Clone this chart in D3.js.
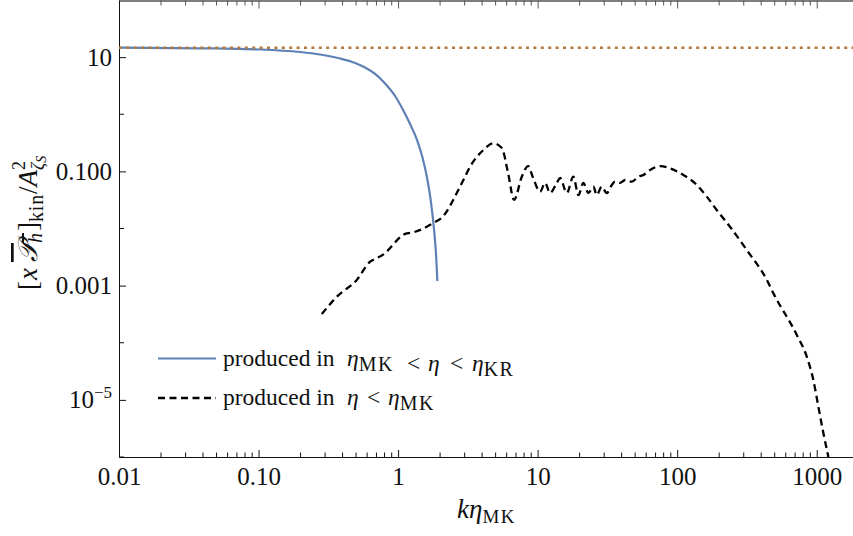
<!DOCTYPE html>
<html><head><meta charset="utf-8">
<script src="https://cdn.jsdelivr.net/npm/d3@7"></script>
<style>
body{margin:0;background:#fff}
svg{display:block}
text{font-family:"Liberation Serif","Times New Roman",serif;fill:#111}
</style>
</head><body>
<svg id="chart" width="853" height="536"></svg>
<script>
// ---- data ----
const blueK = [0.01, 0.0381, 0.1026, 0.1985, 0.2761, 0.384, 0.4918, 0.58, 0.6842, 0.8071, 0.9517, 1.086, 1.219, 1.368, 1.486, 1.614, 1.724, 1.811, 1.872, 1.912];
const blueV = [14.62, 14.27, 13.6, 12.29, 11.12, 9.46, 7.89, 6.58, 5.07, 3.45, 2.087, 1.187, 0.6745, 0.354, 0.1858, 0.0766, 0.0279, 0.00942, 0.00344, 0.001205];

const dashK = [0.284, 0.364, 0.506, 0.630, 0.662, 0.830, 0.876, 1.154, 1.219, 1.79, 2.112, 2.634, 2.938, 3.28, 4.085, 4.82, 5.54, 6.14, 6.78, 7.70, 8.55,
  9.28, 10.41, 11.31, 12.28, 13.72, 14.49, 16.18, 18.04, 19.6, 21.3, 23.1, 25.1, 26.5, 28.8, 31.3, 34.0, 35.9, 39.0, 42.4, 47.3, 52.7, 57.3,
  64.0, 75.5, 89.0, 110.8, 138.3, 163, 192, 239, 315, 439, 489, 720, 849, 946, 1028, 1117, 1213];
const dashV = [3.18e-4, 6.4e-4, 1.26e-3, 2.62e-3, 2.81e-3, 3.93e-3, 4.56e-3, 8.24e-3, 8.36e-3, 0.01247, 0.01656, 0.0418, 0.0706, 0.1208, 0.2366, 0.3098, 0.2565, 0.0938, 0.0316, 0.0807, 0.124,
  0.0766, 0.0441, 0.0627, 0.0418, 0.0627, 0.0766, 0.0418, 0.0807, 0.0385, 0.0627, 0.0418, 0.054, 0.0385, 0.054, 0.0418, 0.0578, 0.0659, 0.0627, 0.0706, 0.0659, 0.0807, 0.0865,
  0.1057, 0.124, 0.113, 0.0865, 0.0578, 0.0361, 0.0211, 0.01076, 4.21e-3, 1.26e-3, 7.35e-4, 1.37e-4, 5.7e-5, 2.23e-5, 7.6e-6, 2.6e-6, 1.0e-6];

const refLevel = 14.62;

const xMajor = [0.01, 0.1, 1, 10, 100, 1000];
const xLabels = ["0.01", "0.10", "1", "10", "100", "1000"];
const yMajor = [10, 0.1, 0.001, 1e-5];
const yLabels = ["10", "0.100", "0.001", "10^-5"];
const yMinor = [1, 0.01, 1e-4, 1e-6];

// ---- layout ----
const L = 119, R = 853, T = 0, B = 457;
const svg = d3.select("#chart");

const x = d3.scaleLog().domain([0.01, 1820]).range([L, R]);
const y = d3.scaleLog().domain([1e-6, 100]).range([B, T]);

const xMinor = [];
for (let d = 0.01; d < 2000; d *= 10) for (let m = 2; m <= 9; m++) { const v = d * m; if (v < 1820) xMinor.push(v); }

svg.append("clipPath").attr("id", "clip").append("rect")
  .attr("x", L).attr("y", T).attr("width", R - L).attr("height", B - T);

// bottom axis
const gx = svg.append("g").attr("transform", `translate(0,${B})`)
  .call(d3.axisBottom(x).tickValues(xMajor).tickFormat((d, i) => xLabels[i]).tickSizeInner(-7).tickSizeOuter(0).tickPadding(10));
gx.attr("font-family", null);
gx.selectAll("text").attr("font-size", 25).attr("fill", "#111");
gx.select(".domain").attr("stroke", "#111");
gx.selectAll(".tick line").attr("stroke", "#111");
gx.selectAll(".minor").data(xMinor).enter().append("line")
  .attr("x1", d => x(d)).attr("x2", d => x(d)).attr("y1", 0).attr("y2", -4.5).attr("stroke", "#111");

// top axis
const gt = svg.append("g").attr("transform", `translate(0,${T + 0.5})`)
  .call(d3.axisTop(x).tickValues(xMajor).tickFormat("").tickSizeInner(-8).tickSizeOuter(0));
gt.select(".domain").attr("stroke", "#555").attr("stroke-width", 1.5);
gt.selectAll(".tick line").attr("stroke", "#555");
gt.selectAll(".minor").data(xMinor).enter().append("line")
  .attr("x1", d => x(d)).attr("x2", d => x(d)).attr("y1", 0).attr("y2", 5).attr("stroke", "#555");

// left axis
const gy = svg.append("g").attr("transform", `translate(${L},0)`)
  .call(d3.axisLeft(y).tickValues(yMajor).tickFormat((d, i) => yLabels[i]).tickSizeInner(-7).tickSizeOuter(0).tickPadding(7));
gy.attr("font-family", null);
gy.select(".domain").attr("stroke", "#111");
gy.selectAll(".tick line").attr("stroke", "#111");
gy.selectAll("text").attr("font-size", 25).attr("fill", "#111");
gy.selectAll(".tick text").each(function (d, i) {
  const lab = yLabels[i];
  if (lab.includes("^")) {
    const [base, ex] = lab.split("^");
    const t = d3.select(this).text(null);
    t.append("tspan").text(base);
    t.append("tspan").attr("font-size", 17).attr("dy", -10).text(ex.replace("-", "\u2212"));
  }
});
gy.selectAll(".minor").data(yMinor).enter().append("line")
  .attr("x1", 0).attr("x2", 5).attr("y1", d => y(d)).attr("y2", d => y(d)).attr("stroke", "#111");

// data lines
const plot = svg.append("g").attr("clip-path", "url(#clip)");
const line = d3.line().x(d => x(d[0])).y(d => y(d[1])).curve(d3.curveMonotoneX);

plot.append("path")
  .datum(blueK.map((k, i) => [k, blueV[i]]))
  .attr("d", line).attr("fill", "none").attr("stroke", "#5E81B5").attr("stroke-width", 2.2);

plot.append("path")
  .datum(x.domain().map(k => [k, refLevel]))
  .attr("d", d3.line().x(d => x(d[0])).y(d => y(d[1])))
  .attr("fill", "none").attr("stroke", "#B5773A").attr("stroke-width", 2.4).attr("stroke-dasharray", "3,4.4");

plot.append("path")
  .datum(dashK.map((k, i) => [k, dashV[i]]))
  .attr("d", line).attr("fill", "none").attr("stroke", "#000").attr("stroke-width", 2.3).attr("stroke-dasharray", "7,4.5");

// legend
const lg = svg.append("g");
lg.append("line").attr("x1", 158).attr("x2", 216).attr("y1", 358.5).attr("y2", 358.5)
  .attr("stroke", "#5E81B5").attr("stroke-width", 2.2);
lg.append("line").attr("x1", 158).attr("x2", 216).attr("y1", 398).attr("y2", 398)
  .attr("stroke", "#000").attr("stroke-width", 2.3).attr("stroke-dasharray", "7,4.5");

const FS = 23.5, SS = 20;
function piece(t, xpos, txt, opts = {}) {
  const s = t.append("tspan").attr("x", xpos).text(txt);
  if (opts.it) s.attr("font-style", "italic");
  return s;
}
function subAfter(t, txt) {
  t.append("tspan").attr("font-size", SS).attr("dy", 5).attr("letter-spacing", 1.5).text(txt);
  t.append("tspan").attr("dy", -5).text("");
}
const t1 = lg.append("text").attr("x", 223).attr("y", 366).attr("font-size", FS);
t1.append("tspan").text("produced in");
piece(t1, 347, "η", { it: true }); subAfter(t1, "MK");
piece(t1, 407, "<");
piece(t1, 428, "η", { it: true });
piece(t1, 450, "<");
piece(t1, 472, "η", { it: true }); subAfter(t1, "KR");

const t2 = lg.append("text").attr("x", 223).attr("y", 405).attr("font-size", FS);
t2.append("tspan").text("produced in");
piece(t2, 347, "η", { it: true });
piece(t2, 367, "<");
piece(t2, 388, "η", { it: true }); subAfter(t2, "MK");

// x-axis label
const xl = svg.append("text").attr("x", 457).attr("y", 518).attr("font-size", 27);
xl.append("tspan").attr("font-style", "italic").text("kη");
xl.append("tspan").attr("font-size", 19).attr("dy", 5).attr("letter-spacing", 1.5).text("MK");

// y-axis label
const yl = svg.append("text").attr("transform", "translate(37,290) rotate(-90)").attr("font-size", 27);
yl.append("tspan").text("[");
yl.append("tspan").attr("font-style", "italic").attr("dx", 1).text("x");
yl.append("tspan").attr("font-style", "italic").attr("dx", 6).attr("text-decoration", "overline").text("\u{1D4AB}");
yl.append("tspan").attr("font-style", "italic").attr("font-size", 20).attr("dy", 5).attr("text-decoration", "overline").text("h");
yl.append("tspan").attr("dy", -5).attr("dx", 2).text("]");
yl.append("tspan").attr("font-size", 20).attr("dy", 6).attr("letter-spacing", 0.8).text("kin");
yl.append("tspan").attr("dy", -6).text("/");
yl.append("tspan").attr("font-style", "italic").text("A");
yl.append("tspan").attr("font-size", 18).attr("dy", -12).text("2");
yl.append("tspan").attr("font-size", 18).attr("font-style", "italic").attr("dx", -9).attr("dy", 19).text("ζ");
yl.append("tspan").attr("font-size", 14).attr("font-style", "italic").attr("dy", 2).text("S");
</script>
</body></html>
